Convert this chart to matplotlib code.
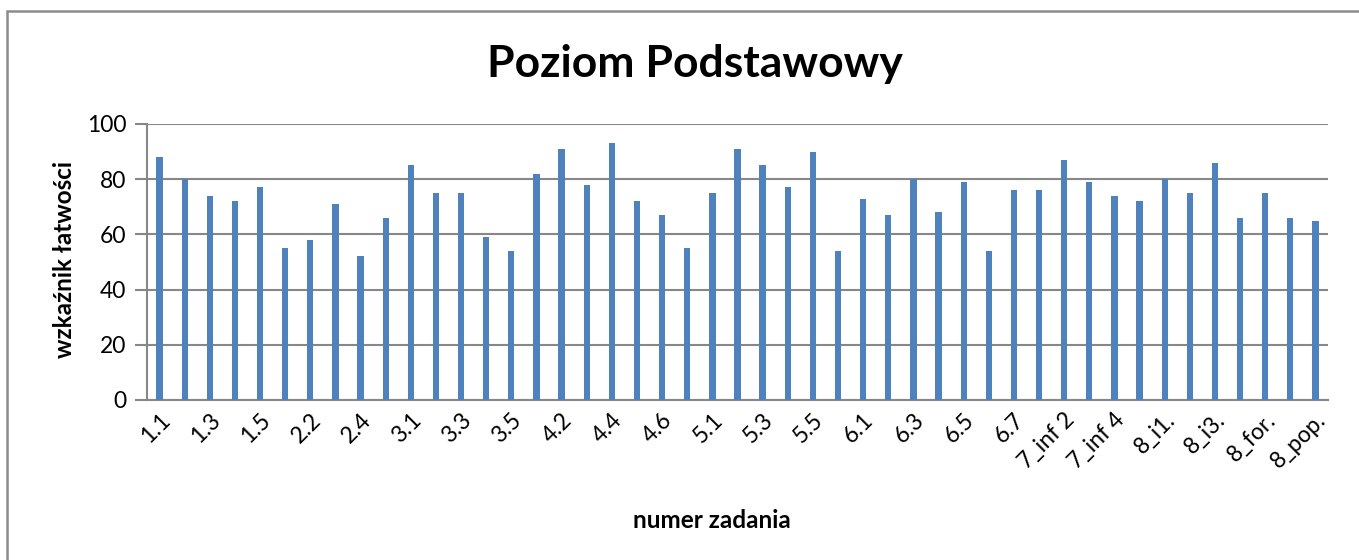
import matplotlib.pyplot as plt
import numpy as np
from matplotlib.patches import Rectangle
from matplotlib.transforms import ScaledTranslation

# numer zadania (co drugi podpis widoczny na osi)
zadania = [
    "1.1", "1.2", "1.3", "1.4", "1.5", "2.1", "2.2", "2.3", "2.4", "2.5",
    "3.1", "3.2", "3.3", "3.4", "3.5", "4.1", "4.2", "4.3", "4.4", "4.5",
    "4.6", "4.7", "5.1", "5.2", "5.3", "5.4", "5.5", "5.6", "6.1", "6.2",
    "6.3", "6.4", "6.5", "6.6", "6.7", "7_inf 1", "7_inf 2", "7_inf 3",
    "7_inf 4", "7_inf 5", "8_i1.", "8_i2.", "8_i3.", "8_i4.", "8_for.",
    "8_odb.", "8_pop.",
]
latwosc = [
    88, 80, 74, 72, 77, 55, 58, 71, 52, 66,
    85, 75, 75, 59, 54, 82, 91, 78, 93, 72,
    67, 55, 75, 91, 85, 77, 90, 54, 73, 67,
    80, 68, 79, 54, 76, 76, 87, 79, 74, 72,
    80, 75, 86, 66, 75, 66, 65,
]
y_ticks = [0, 20, 40, 60, 80, 100]

FONT = "Lato"
BAR = "#4F81BD"
GRID = "#878787"

fig = plt.figure(figsize=(13.59, 5.6), dpi=100)
ax = fig.add_axes([147 / 1359, 1 - 400 / 560, (1328 - 147) / 1359, (400 - 124) / 560])

x = np.arange(len(zadania))
ax.bar(x, latwosc, width=0.25, color=BAR, zorder=3)

ax.set_xlim(-0.5, len(zadania) - 0.5)
ax.set_ylim(0, 100)
ax.set_yticks(y_ticks)
ax.set_yticklabels([str(v) for v in y_ticks], fontsize=16.5, family=FONT)
ax.yaxis.grid(True, color=GRID, linewidth=1.5, zorder=0)

ax.set_xticks(x[::2])
ax.set_xticklabels(zadania[::2], rotation=45, ha="right", va="center",
                   rotation_mode="anchor", fontsize=16.5, family=FONT)
ax.tick_params(axis="x", length=0, pad=12)
ax.tick_params(axis="y", length=9, width=1.5, color=GRID, pad=6)
# przesunięcie podpisów, tak jak w Excelu (koniec tekstu obok słupka)
shift = ScaledTranslation(7 / 100, 0, fig.dpi_scale_trans)
for lbl in ax.get_xticklabels():
    lbl.set_transform(lbl.get_transform() + shift)

for side in ("top", "right"):
    ax.spines[side].set_visible(False)
for side in ("left", "bottom"):
    ax.spines[side].set_color(GRID)
    ax.spines[side].set_linewidth(1.5)

fig.text(65 / 1359, 1 - 260 / 560, "wzkaźnik łatwości", fontsize=17.5, fontweight="bold",
         family=FONT, rotation=90, ha="center", va="center")
fig.text(712 / 1359, 1 - 520 / 560, "numer zadania", fontsize=17.5, fontweight="bold",
         family=FONT, ha="center", va="center")
fig.text(695 / 1359, 1 - 64 / 560, "Poziom Podstawowy", fontsize=32, fontweight="bold",
         family=FONT, ha="center", va="center")

# ramka wykresu (prawa i dolna krawędź poza obrazem)
fig.patches.append(Rectangle((7 / 1359, -0.1), 1.2, 1 - 11 / 560 + 0.1,
                             transform=fig.transFigure, fill=False,
                             edgecolor="#8c8c8c", linewidth=1.8))

plt.savefig("out.png", dpi=100, facecolor="white")
plt.close()
